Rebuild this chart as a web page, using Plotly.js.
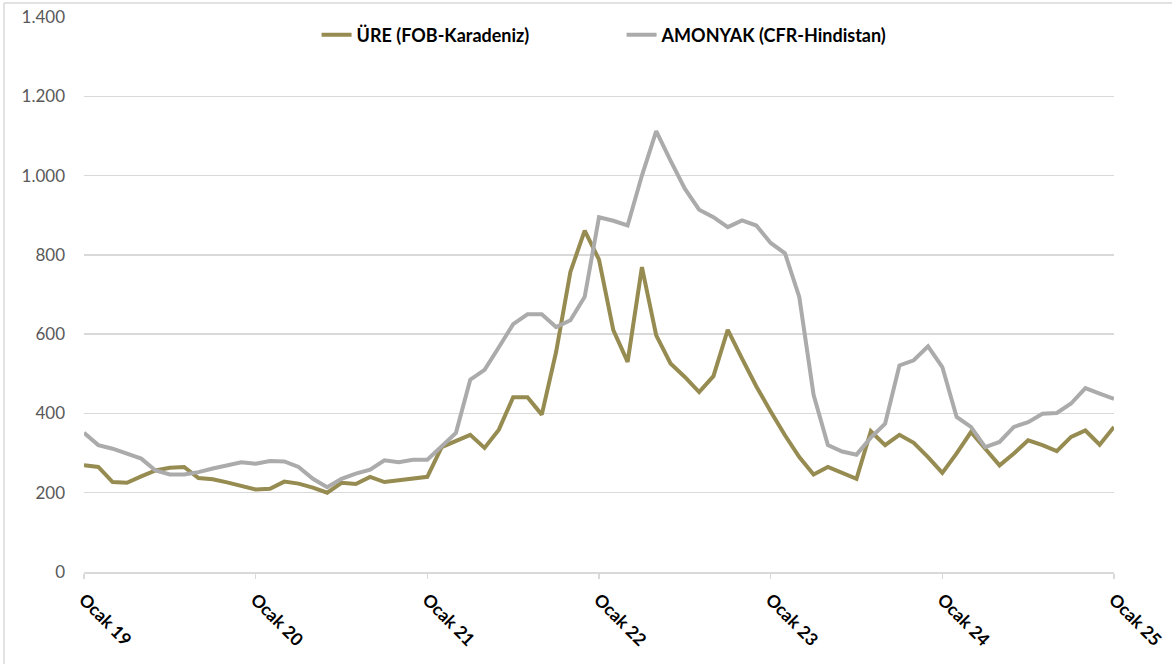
<!DOCTYPE html>
<html>
<head>
<meta charset="utf-8">
<script src="https://cdn.plot.ly/plotly-3.0.1.min.js"></script>
<style>
  html, body { margin: 0; padding: 0; background: #ffffff; }
  #chart { width: 1172px; height: 664px; }
</style>
</head>
<body>
<div id="chart"></div>
<script>
// Monthly data, Ocak 2019 .. Ocak 2025 (73 months)
var tickLabels = ["Ocak 19", "Ocak 20", "Ocak 21", "Ocak 22", "Ocak 23", "Ocak 24", "Ocak 25"];
var tickIndex = [0, 12, 24, 36, 48, 60, 72];

var ure = [
  269, 265, 227, 225, 241, 256, 263, 265, 237, 234, 226, 217,
  208, 210, 228, 223, 213, 200, 225, 222, 240, 227, 231, 234,
  240, 315, 330, 346, 313, 359, 441, 441, 397, 555, 757, 861,
  788, 610, 530, 769, 597, 526, 492, 454, 494, 611, 538, 468,
  405, 345, 290, 246, 265, 251, 235, 355, 320, 346, 326, 290,
  250, 299, 353, 311, 269, 299, 332, 320, 305, 341, 357, 321,
  366
];

var amonyak = [
  351, 320, 311, 299, 286, 256, 246, 246, 252, 261, 269, 277,
  273, 280, 279, 265, 235, 214, 235, 248, 258, 282, 277, 283,
  283, 317, 351, 485, 510, 567, 625, 650, 650, 618, 635, 694,
  895, 886, 874, 1000, 1112, 1038, 967, 914, 895, 870, 887, 874,
  830, 804, 694, 447, 320, 304, 296, 339, 374, 521, 534, 569,
  517, 391, 366, 315, 328, 366, 378, 399, 401, 425, 464, 450,
  437
];

var months = [];
for (var i = 0; i < ure.length; i++) { months.push(i); }

var fontFam = "Lato, 'Open Sans', 'Liberation Sans', sans-serif";

var traces = [
  {
    x: months, y: ure, type: "scatter", mode: "lines",
    name: "ÜRE (FOB-Karadeniz)",
    line: { color: "#968B50", width: 4 },
    hoverinfo: "y"
  },
  {
    x: months, y: amonyak, type: "scatter", mode: "lines",
    name: "AMONYAK (CFR-Hindistan)",
    line: { color: "#ABABAB", width: 4 },
    hoverinfo: "y"
  }
];

var layout = {
  width: 1172, height: 664,
  margin: { l: 84, r: 58, t: 17, b: 92, pad: 0 },
  paper_bgcolor: "#ffffff",
  plot_bgcolor: "#ffffff",
  font: { family: fontFam, color: "#000000" },
  showlegend: true,
  legend: {
    orientation: "h",
    x: 0.2258, xanchor: "left",
    y: 0.9676, yanchor: "middle",
    entrywidth: 260,
    font: { family: fontFam, size: 18, color: "#000000", weight: "bold" },
    bgcolor: "rgba(0,0,0,0)"
  },
  xaxis: {
    range: [0, 72],
    tickmode: "array",
    tickvals: tickIndex,
    ticktext: tickLabels,
    tickangle: 45,
    ticks: "outside",
    ticklen: 5,
    tickwidth: 1.5,
    tickcolor: "#D9D9D9",
    ticklabelstandoff: 4,
    showgrid: false,
    zeroline: false,
    showline: true,
    linecolor: "#D9D9D9",
    linewidth: 1.5,
    tickfont: { family: fontFam, size: 17.5, color: "#000000", weight: "bold" },
    fixedrange: true
  },
  yaxis: {
    range: [0, 1400],
    tickmode: "array",
    tickvals: [0, 200, 400, 600, 800, 1000, 1200, 1400],
    ticktext: ["0", "200", "400", "600", "800", "1.000", "1.200", "1.400"],
    showgrid: true,
    gridcolor: "#D9D9D9",
    gridwidth: 1.5,
    zeroline: false,
    showline: false,
    ticks: "",
    ticklabelstandoff: 18,
    tickfont: { family: fontFam, size: 17, color: "#595959" },
    fixedrange: true
  },
  shapes: [
    { type: "line", xref: "paper", yref: "paper",
      x0: (4 - 84) / 1030, x1: (1172 - 84) / 1030,
      y0: (572 - 3) / 555, y1: (572 - 3) / 555,
      line: { color: "#D9D9D9", width: 1.5 } },
    { type: "line", xref: "paper", yref: "paper",
      x0: (4 - 84) / 1030, x1: (4 - 84) / 1030,
      y0: (572 - 3) / 555, y1: (572 - 664) / 555,
      line: { color: "#D9D9D9", width: 1.5 } }
  ]
};

Plotly.newPlot("chart", traces, layout, { displayModeBar: false, staticPlot: true });
</script>
</body>
</html>
